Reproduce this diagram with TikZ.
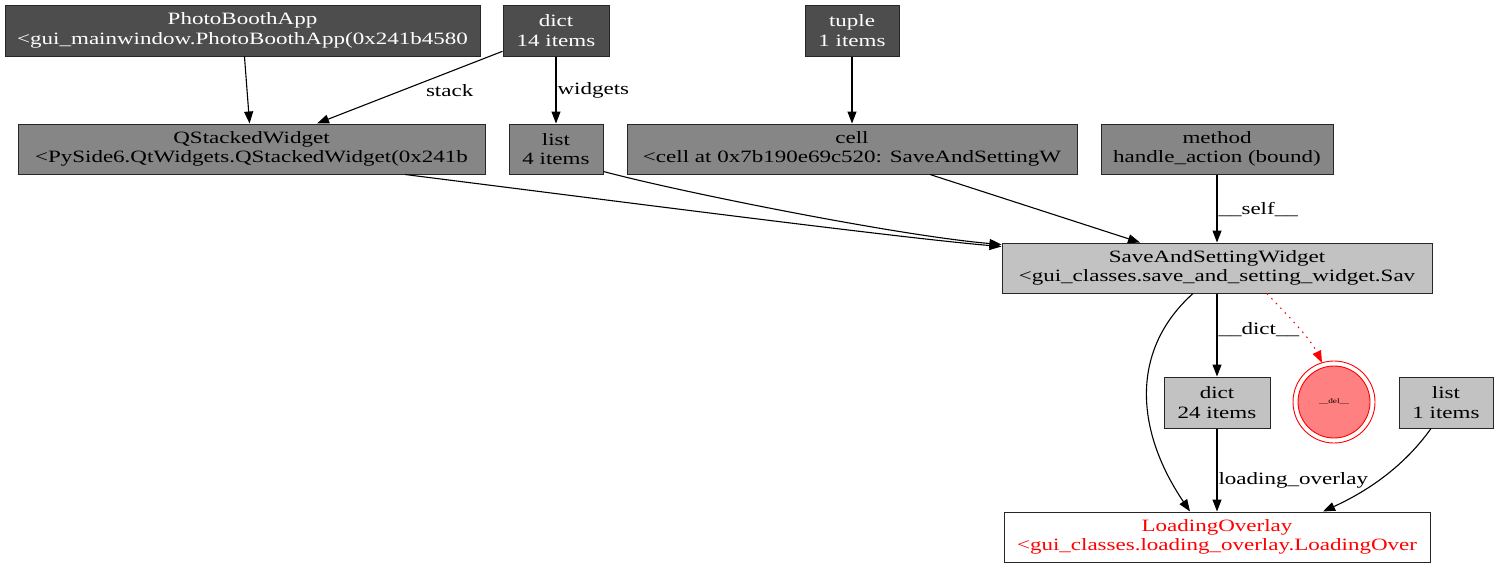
\documentclass[tikz,border=0pt]{standalone}
\usepackage{fontspec}
\setmainfont{Liberation Serif}[FakeStretch=1.33]
\usetikzlibrary{arrows.meta}
\definecolor{darkbox}{HTML}{4D4D4D}
\definecolor{midbox}{HTML}{868686}
\definecolor{lightbox}{HTML}{C2C2C2}
\definecolor{delfill}{HTML}{FF8080}
\tikzset{
  obj/.style={rectangle, draw=black!85, line width=1pt, inner sep=0pt, align=center,
    font=\fontsize{17.3}{19.5}\selectfont},
  darkobj/.style={obj, fill=darkbox, text=white},
  midobj/.style={obj, fill=midbox},
  lightobj/.style={obj, fill=lightbox},
  edge/.style={line width=1.1pt, -{Triangle[length=12pt,width=9pt]}},
  lbl/.style={font=\fontsize{17.3}{19.5}\selectfont, inner sep=1pt},
}
\begin{document}
\begin{tikzpicture}[x=1pt,y=-1pt]
\useasboundingbox (0,0) rectangle (1499,568);
% top row
\node[darkobj, minimum width=475pt, minimum height=51pt] (pba) at (242.5,30.5) {PhotoBoothApp\\<gui\_mainwindow.PhotoBoothApp(0x241b4580};
\node[darkobj, minimum width=106pt, minimum height=51pt] (d14) at (556,30.5) {dict\\14 items};
\node[darkobj, minimum width=94pt, minimum height=51pt] (tup) at (852,30.5) {tuple\\1 items};
% second row
\node[midobj, minimum width=467pt, minimum height=50pt] (qsw) at (251.5,149) {QStackedWidget\\<PySide6.QtWidgets.QStackedWidget(0x241b};
\node[midobj, minimum width=94pt, minimum height=50pt] (l4) at (556,149) {list\\4 items};
\node[midobj, minimum width=450pt, minimum height=50pt] (cell) at (852,149) {cell\\<cell at 0x7b190e69c520: SaveAndSettingW};
\node[midobj, minimum width=232pt, minimum height=50pt] (meth) at (1217,149) {method\\handle\_action (bound)};
% third row
\node[lightobj, minimum width=430pt, minimum height=50pt] (saw) at (1217,268) {SaveAndSettingWidget\\<gui\_classes.save\_and\_setting\_widget.Sav};
% fourth row
\node[lightobj, minimum width=106pt, minimum height=51pt] (d24) at (1217,402.5) {dict\\24 items};
\node[circle, draw=red, fill=delfill, line width=0.9pt, minimum size=72pt, inner sep=0pt, outer sep=5pt,
      font=\fontsize{7}{8}\selectfont] (del) at (1334,402) {\_\_del\_\_};
\draw[red, line width=0.9pt] (del.center) circle[radius=41pt];
\node[lightobj, minimum width=94pt, minimum height=51pt] (l1) at (1446,402.5) {list\\1 items};
% bottom
\node[obj, fill=white, text=red, minimum width=426pt, minimum height=50pt] (lo) at (1217,537) {LoadingOverlay\\<gui\_classes.loading\_overlay.LoadingOver};
% edges
\draw[edge] (pba) -- (qsw);
\draw[edge] (d14) -- node[lbl, pos=0.55, anchor=west, xshift=24pt] {stack} (qsw);
\draw[edge] (d14) -- node[lbl, pos=0.5, anchor=west] {widgets} (l4);
\draw[edge] (tup) -- (cell);
\draw[edge] ([xshift=153.5pt]qsw.south) .. controls (600,199) and (900,238) .. ([yshift=-4pt]saw.north west);
\draw[edge] ([yshift=3pt]l4.south east) .. controls (680,192) and (900,236) .. ([yshift=-2pt]saw.north west);
\draw[edge] ([xshift=78pt]cell.south) -- ([xshift=-77pt]saw.north);
\draw[edge] (meth) -- node[lbl, pos=0.52, anchor=west] {\_\_self\_\_} (saw);
\draw[edge] ([xshift=-24pt]saw.south) .. controls (1130,350) and (1135,430) .. ([xshift=-27pt]lo.north);
\draw[edge] (saw) -- node[lbl, pos=0.44, anchor=west] {\_\_dict\_\_} (d24);
\draw[line width=1.1pt, red, dash pattern=on 1.5pt off 5pt, -{Triangle[length=12pt,width=9pt]}]
  ([xshift=50pt]saw.south) .. controls (1290,318) and (1310,338) .. (del.107);
\draw[edge] (d24) -- node[lbl, pos=0.62, anchor=west] {loading\_overlay} (lo);
\draw[edge] ([xshift=-15pt]l1.south) .. controls (1405,465) and (1370,490) .. ([xshift=106pt]lo.north);
\end{tikzpicture}
\end{document}
